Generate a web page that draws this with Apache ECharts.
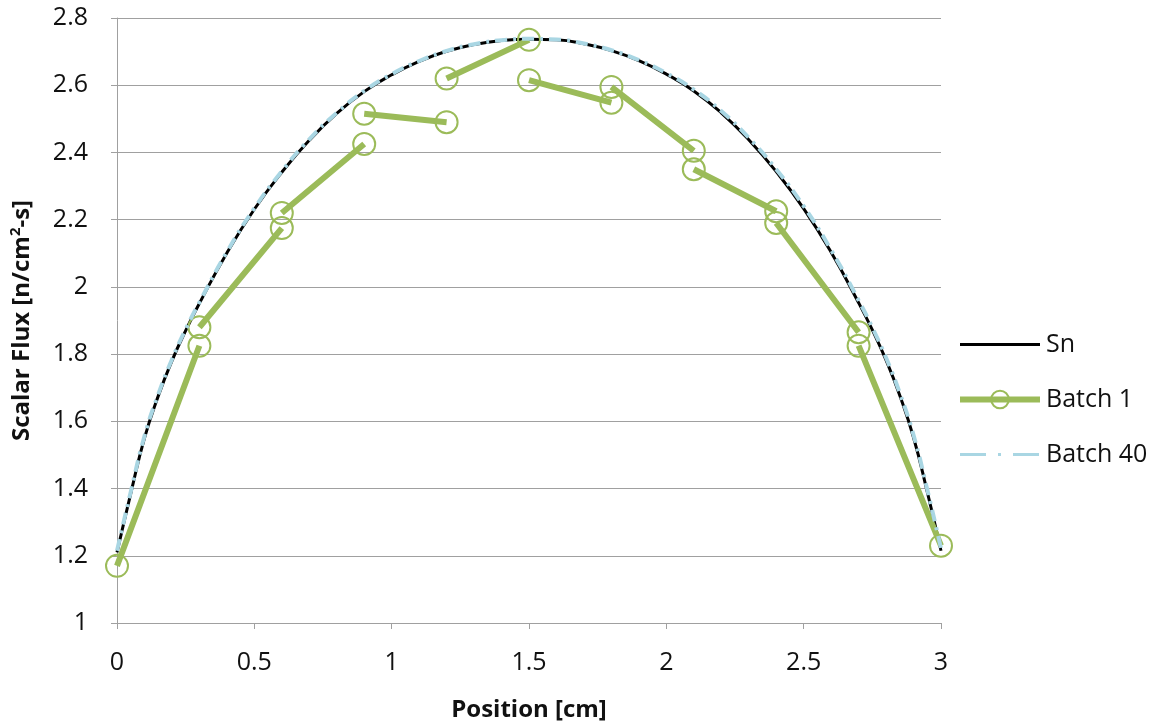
<!DOCTYPE html>
<html>
<head>
<meta charset="utf-8">
<script src="https://cdn.jsdelivr.net/npm/echarts@6/dist/echarts.min.js"></script>
<style>
  html, body { margin: 0; padding: 0; background: #fff; }
  #chart { width: 1165px; height: 728px; }
</style>
</head>
<body>
<div id="chart"></div>
<script>
// Position grid of the smooth solutions [cm]
const curveX = [0, 0.05, 0.1, 0.15, 0.2, 0.25, 0.3, 0.4, 0.5, 0.6, 0.7, 0.8, 0.9, 1.0, 1.1, 1.2, 1.3, 1.4, 1.5,
                1.6, 1.7, 1.8, 1.9, 2.0, 2.1, 2.2, 2.3, 2.4, 2.5, 2.6, 2.7, 2.75, 2.8, 2.85, 2.9, 2.95, 3.0];
// Deterministic Sn scalar flux
const snFlux = [1.21, 1.385, 1.55, 1.675, 1.78, 1.87, 1.951, 2.101, 2.231, 2.341, 2.436, 2.516, 2.581, 2.631, 2.671, 2.701, 2.721, 2.733, 2.737,
                2.735, 2.723, 2.703, 2.673, 2.633, 2.583, 2.518, 2.438, 2.343, 2.233, 2.103, 1.953, 1.872, 1.782, 1.677, 1.552, 1.39, 1.215];
// Monte Carlo estimate after 40 batches
const batch40Flux = [1.215, 1.39, 1.556, 1.68, 1.784, 1.874, 1.954, 2.104, 2.234, 2.344, 2.439, 2.518, 2.583, 2.633, 2.672, 2.702, 2.722, 2.734, 2.738,
                     2.736, 2.724, 2.704, 2.675, 2.636, 2.587, 2.523, 2.444, 2.35, 2.24, 2.11, 1.96, 1.879, 1.789, 1.684, 1.559, 1.397, 1.222];

// Monte Carlo estimate after 1 batch: linear tally in each cell (left / right edge values)
const cellEdges = [0, 0.3, 0.6, 0.9, 1.2, 1.5, 1.8, 2.1, 2.4, 2.7, 3.0];
const batch1Left = [1.17, 1.88, 2.22, 2.515, 2.62, 2.615, 2.595, 2.35, 2.19, 1.825];
const batch1Right = [1.825, 2.175, 2.425, 2.49, 2.735, 2.548, 2.405, 2.225, 1.865, 1.23];

// Axis ticks
const xTicks = { min: 0, max: 3, interval: 0.5 };
const yTicks = { min: 1, max: 2.8, interval: 0.2 };

const snData = curveX.map((x, i) => [x, snFlux[i]]);
const batch40Data = curveX.map((x, i) => [x, batch40Flux[i]]);
// each cell is its own segment; a '-' point breaks the line between cells
const batch1Data = [];
batch1Left.forEach((v, i) => {
  batch1Data.push([cellEdges[i], v]);
  batch1Data.push([cellEdges[i + 1], batch1Right[i]]);
  if (i < batch1Left.length - 1) batch1Data.push([cellEdges[i + 1], '-']);
});

const FONT = '"Open Sans", "Noto Sans", sans-serif';
const TXT = '#111111';
const GRID = '#a0a0a0';
const GREEN = '#9bbb59';
const LIGHTBLUE = '#a9d6e3';

const chart = echarts.init(document.getElementById('chart'), null, { renderer: 'canvas' });
chart.setOption({
  animation: false,
  backgroundColor: '#ffffff',
  grid: { left: 115, right: 224, top: 18, bottom: 105, containLabel: false },
  legend: {
    orient: 'vertical',
    left: 952,
    top: 327,
    itemWidth: 80,
    itemHeight: 22,
    itemGap: 30,
    textStyle: { fontFamily: FONT, fontSize: 25, color: TXT, padding: [0, 0, 0, 1] },
    data: [
      { name: 'Sn', itemStyle: { opacity: 0 }, lineStyle: { width: 3 } },
      { name: 'Batch 1', lineStyle: { width: 6 } },
      { name: 'Batch 40', itemStyle: { opacity: 0 }, lineStyle: { type: [26, 12, 3, 12], width: 3 } }
    ]
  },
  xAxis: {
    type: 'value',
    min: xTicks.min, max: xTicks.max, interval: xTicks.interval,
    name: 'Position [cm]',
    nameLocation: 'middle',
    nameGap: 75,
    nameTextStyle: { fontFamily: FONT, fontSize: 24, fontWeight: 'bold', color: TXT },
    axisLine: { lineStyle: { color: GRID, width: 1 } },
    axisTick: { show: true, length: 6, lineStyle: { color: GRID } },
    axisLabel: { fontFamily: FONT, fontSize: 25, color: TXT, margin: 27 },
    splitLine: { show: false }
  },
  yAxis: {
    type: 'value',
    min: yTicks.min, max: yTicks.max, interval: yTicks.interval,
    name: 'Scalar Flux [n/cm{s|2}-s]',
    nameLocation: 'middle',
    nameGap: 80,
    nameTextStyle: {
      fontFamily: FONT, fontSize: 24, fontWeight: 'bold', color: TXT,
      rich: { s: { fontFamily: FONT, fontSize: 15, fontWeight: 'bold', color: TXT, padding: [0, 0, 14, 0] } }
    },
    axisLine: { show: true, lineStyle: { color: GRID, width: 1 } },
    axisTick: { show: true, length: 6, lineStyle: { color: GRID } },
    axisLabel: { fontFamily: FONT, fontSize: 25, color: TXT, margin: 29 },
    splitLine: { show: true, lineStyle: { color: GRID, width: 1 } }
  },
  series: [
    {
      name: 'Sn',
      type: 'line',
      data: snData,
      smooth: true,
      showSymbol: false,
      symbol: 'none',
      color: '#000000',
      lineStyle: { color: '#000000', width: 3 },
      z: 2
    },
    {
      name: 'Batch 1',
      type: 'line',
      data: batch1Data,
      connectNulls: false,
      symbol: 'circle',
      symbolSize: 22,
      color: GREEN,
      itemStyle: { color: 'rgba(255,255,255,0)', borderColor: GREEN, borderWidth: 2 },
      lineStyle: { color: GREEN, width: 6 },
      z: 3
    },
    {
      name: 'Batch 40',
      type: 'line',
      data: batch40Data,
      smooth: true,
      showSymbol: false,
      symbol: 'none',
      color: LIGHTBLUE,
      lineStyle: { color: LIGHTBLUE, width: 4, type: [12, 6, 3, 6] },
      z: 4
    }
  ]
});
</script>
</body>
</html>
